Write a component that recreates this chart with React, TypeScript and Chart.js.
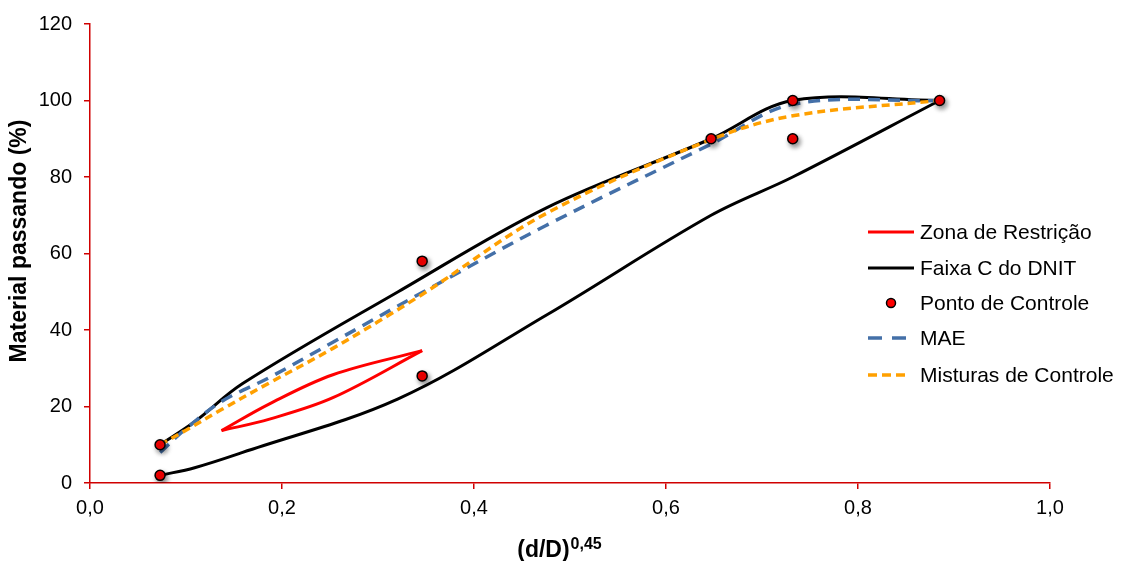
import { useEffect, useRef } from 'react';
import { Chart, registerables } from 'chart.js';

Chart.register(...registerables);

// ---- data ----
const sieveX = [0.073, 0.109, 0.159, 0.321, 0.476, 0.647, 0.732, 0.885];
const faixaUpper = [10, 16, 26, 50, 72, 90, 100, 100];
const faixaLower = [2, 4, 8, 22, 44, 70, 80, 100];

const zonaX = [0.137, 0.187, 0.253, 0.346];
const zonaLower = [13.7, 16.7, 22.3, 34.6];
const zonaUpper = [13.7, 20.7, 28.3, 34.6];

const controleX = [0.073, 0.073, 0.346, 0.346, 0.647, 0.732, 0.732, 0.885];
const controleY = [2, 10, 28, 58, 90, 90, 100, 100];

const misturaX = [0.073, 0.1, 0.137, 0.187, 0.253, 0.346, 0.474, 0.647, 0.732, 0.885];
const maeY = [8, 14.2, 21.3, 27.6, 36.8, 49.8, 67.2, 88.6, 99.0, 100];
const misturasY = [10, 13.8, 19.2, 26.2, 35.2, 49.3, 70.3, 89.8, 96.0, 100];

const xTickLabels = ['0,0', '0,2', '0,4', '0,6', '0,8', '1,0'];
const yTickLabels = ['0', '20', '40', '60', '80', '100', '120'];

const legendLabels = ['Zona de Restrição', 'Faixa C do DNIT', 'Ponto de Controle', 'MAE', 'Misturas de Controle'];
const yTitle = 'Material passando (%)';
const xTitleMain = '(d/D)';
const xTitleSup = '0,45';

// ---- styles ----
const FONT = "'Liberation Sans', Arial, sans-serif";
const AXIS_RED = '#D00000';
const RED = '#FF0000';
const BLACK = '#000000';
const BLUE = '#4470A8';
const ORANGE = '#FFA000';

const pts = (xs: number[], ys: number[]) => xs.map((x, i) => ({ x, y: ys[i] }));

const shadowPlugin = {
  id: 'pointShadow',
  beforeDatasetDraw(chart: any, args: any) {
    if (chart.data.datasets[args.index].label === legendLabels[2]) {
      const ctx = chart.ctx;
      ctx.save();
      ctx.shadowColor = 'rgba(0,0,0,0.45)';
      ctx.shadowBlur = 5;
      ctx.shadowOffsetX = 2;
      ctx.shadowOffsetY = 3;
    }
  },
  afterDatasetDraw(chart: any, args: any) {
    if (chart.data.datasets[args.index].label === legendLabels[2]) {
      chart.ctx.restore();
    }
  },
};

const decorPlugin = {
  id: 'decor',
  afterDraw(chart: any) {
    const ctx = chart.ctx as CanvasRenderingContext2D;
    const ca = chart.chartArea;
    ctx.save();
    // y title
    ctx.fillStyle = '#000';
    ctx.font = `bold 23px ${FONT}`;
    ctx.textAlign = 'center';
    ctx.textBaseline = 'middle';
    ctx.translate(20, 241);
    ctx.rotate(-Math.PI / 2);
    ctx.fillText(yTitle, 0, 0);
    ctx.restore();

    // x title with superscript
    ctx.save();
    ctx.fillStyle = '#000';
    ctx.textBaseline = 'alphabetic';
    ctx.textAlign = 'left';
    ctx.font = `bold 23px ${FONT}`;
    const w1 = ctx.measureText(xTitleMain).width;
    ctx.font = `bold 16px ${FONT}`;
    const w2 = ctx.measureText(xTitleSup).width;
    const cx = (ca.left + ca.right) / 2 - 11;
    const x0 = cx - (w1 + w2) / 2;
    const base = 557;
    ctx.font = `bold 23px ${FONT}`;
    ctx.fillText(xTitleMain, x0, base);
    ctx.font = `bold 16px ${FONT}`;
    ctx.fillText(xTitleSup, x0 + w1 + 1, base - 8);
    ctx.restore();

    // legend
    ctx.save();
    const lx0 = ca.right - 182;
    const lx1 = lx0 + 46;
    const tx = lx0 + 52;
    const ys = [232, 268, 303, 338, 375];
    ctx.lineCap = 'butt';
    // Zona
    ctx.strokeStyle = RED;
    ctx.lineWidth = 3;
    ctx.setLineDash([]);
    ctx.beginPath(); ctx.moveTo(lx0, ys[0]); ctx.lineTo(lx1, ys[0]); ctx.stroke();
    // Faixa
    ctx.strokeStyle = BLACK;
    ctx.beginPath(); ctx.moveTo(lx0, ys[1]); ctx.lineTo(lx1, ys[1]); ctx.stroke();
    // Ponto
    ctx.fillStyle = RED;
    ctx.strokeStyle = BLACK;
    ctx.lineWidth = 1.5;
    ctx.beginPath(); ctx.arc((lx0 + lx1) / 2, ys[2], 4.5, 0, Math.PI * 2); ctx.fill(); ctx.stroke();
    // MAE
    ctx.strokeStyle = BLUE;
    ctx.lineWidth = 3.5;
    ctx.setLineDash([14, 10]);
    ctx.beginPath(); ctx.moveTo(lx0, ys[3]); ctx.lineTo(lx1 - 8, ys[3]); ctx.stroke();
    // Misturas
    ctx.strokeStyle = ORANGE;
    ctx.setLineDash([9, 5]);
    ctx.beginPath(); ctx.moveTo(lx0, ys[4]); ctx.lineTo(lx1 - 4, ys[4]); ctx.stroke();
    ctx.setLineDash([]);
    // texts
    ctx.fillStyle = '#000';
    ctx.font = `21px ${FONT}`;
    ctx.textAlign = 'left';
    ctx.textBaseline = 'middle';
    legendLabels.forEach((t, i) => ctx.fillText(t, tx, ys[i] + 1));
    ctx.restore();
  },
};

export default function App() {
  const ref = useRef<HTMLCanvasElement | null>(null);

  useEffect(() => {
    if (!ref.current) return;
    const lineBase = { showLine: true, pointRadius: 0, pointHoverRadius: 0, tension: 0.35, fill: false };
    const chart = new Chart(ref.current, {
      type: 'scatter',
      data: {
        datasets: [
          { ...lineBase, label: legendLabels[0], data: pts(zonaX, zonaLower), borderColor: RED, borderWidth: 3, order: 4 },
          { ...lineBase, label: legendLabels[0] + ' sup', data: pts(zonaX, zonaUpper), borderColor: RED, borderWidth: 3, order: 4 },
          { ...lineBase, label: legendLabels[1], data: pts(sieveX, faixaUpper), borderColor: BLACK, borderWidth: 3, order: 3 },
          { ...lineBase, label: legendLabels[1] + ' inf', data: pts(sieveX, faixaLower), borderColor: BLACK, borderWidth: 3, order: 3 },
          {
            label: legendLabels[2], data: pts(controleX, controleY), showLine: false,
            pointRadius: 5, pointBackgroundColor: RED, pointBorderColor: BLACK, pointBorderWidth: 1.5,
            backgroundColor: RED, borderColor: BLACK, order: 0,
          },
          { ...lineBase, label: legendLabels[3], data: pts(misturaX, maeY), borderColor: BLUE, borderWidth: 3.5, borderDash: [12, 8], order: 2 },
          { ...lineBase, label: legendLabels[4], data: pts(misturaX, misturasY), borderColor: ORANGE, borderWidth: 3.5, borderDash: [8, 5], order: 1 },
        ],
      },
      options: {
        animation: false,
        responsive: false,
        events: [],
        layout: { padding: { left: 0, top: 21, right: 74, bottom: 0 } },
        plugins: { legend: { display: false }, tooltip: { enabled: false }, title: { display: false } },
        scales: {
          x: {
            type: 'linear',
            min: 0,
            max: 1,
            ticks: {
              stepSize: 0.2,
              padding: 7,
              color: '#000',
              font: { size: 20, family: FONT },
              maxRotation: 0,
              callback: (_v: any, i: number) => xTickLabels[i],
            },
            grid: { drawOnChartArea: false, drawTicks: true, tickLength: 6, color: AXIS_RED, lineWidth: 1.5 },
            border: { color: AXIS_RED, width: 1.5 },
            afterFit: (s: any) => { s.height = 78; },
          },
          y: {
            type: 'linear',
            min: 0,
            max: 120,
            ticks: {
              stepSize: 20,
              padding: 12,
              color: '#000',
              font: { size: 20, family: FONT },
              callback: (_v: any, i: number) => yTickLabels[i],
            },
            grid: { drawOnChartArea: false, drawTicks: true, tickLength: 6, color: AXIS_RED, lineWidth: 1.5 },
            border: { color: AXIS_RED, width: 1.5 },
            afterFit: (s: any) => { s.width = 90; },
          },
        },
      },
      plugins: [shadowPlugin, decorPlugin],
    } as any);
    return () => chart.destroy();
  }, []);

  return (
    <div style={{ position: 'fixed', left: 0, top: 0, width: 1124, height: 561, background: '#fff' }}>
      <canvas ref={ref} width={1124} height={561} style={{ display: 'block' }} />
    </div>
  );
}
